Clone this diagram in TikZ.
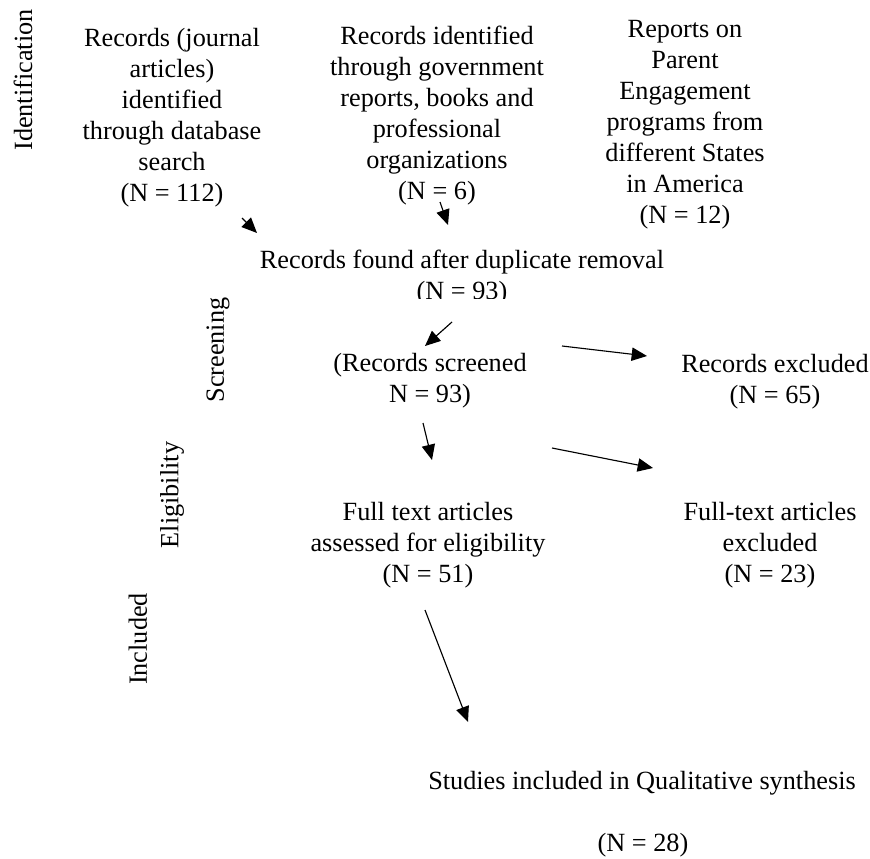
\documentclass[tikz,border=0pt]{standalone}
\usepackage{fontspec}
\setmainfont{Liberation Serif}
\usetikzlibrary{arrows.meta}
\begin{document}
\begin{tikzpicture}[x=0.75pt,y=-0.75pt,
  txt/.style={inner sep=0pt,align=center,font=\fontsize{19.7pt}{23.25pt}\selectfont},
  side/.style={txt,rotate=90},
  arr/.style={line width=0.85pt,-{Triangle[length=11.5pt,width=10pt]}}]
\useasboundingbox (0,0) rectangle (870,859);
% stage labels
\node[side] (lid) at (23,80) {Identification};
\node[side] (lsc) at (218,350) {Screening};
\node[side] (lel) at (172,495) {Eligibility};
\node[side] (lin) at (138,639) {Included};
% boxes
\node[txt] (b1) at (172,117.5) {Records (journal\\articles)\\identified\\through database\\search\\(N = 112)};
\node[txt] (b2) at (437,115.5) {Records identified\\through government\\reports, books and\\professional\\organizations\\(N = 6)};
\node[txt] (b3) at (685,125) {Reports on\\Parent\\Engagement\\programs from\\different States\\in America\\(N = 12)};
\begin{scope}
\clip (0,0) rectangle (870,298);
\node[txt] (dup) at (462,278) {Records found after duplicate removal\\(N = 93)};
\end{scope}
\node[txt] (scr) at (430,381) {(Records screened\\N = 93)};
\node[txt] (exc) at (775,382) {Records excluded\\(N = 65)};
\node[txt] (full) at (428,545) {Full text articles\\assessed for eligibility\\(N = 51)};
\node[txt] (fexc) at (770,545) {Full-text articles\\excluded\\(N = 23)};
\node[txt] (stud) at (642,783) {Studies included in Qualitative synthesis};
\node[txt] (studn) at (643,845) {(N = 28)};
% arrow end points
\coordinate (a1s) at (242,218); \coordinate (a1e) at (257,233);
\coordinate (a2s) at (440,202); \coordinate (a2e) at (448,225);
\coordinate (a3s) at (452,322); \coordinate (a3e) at (425,346);
\coordinate (a4s) at (562,346); \coordinate (a4e) at (647,356);
\coordinate (a5s) at (423,423); \coordinate (a5e) at (432,460);
\coordinate (a6s) at (552,448); \coordinate (a6e) at (653,468);
\coordinate (a7s) at (425,610); \coordinate (a7e) at (468,722);
\draw[arr] (a1s) -- (a1e);
\draw[arr] (a2s) -- (a2e);
\draw[arr] (a3s) -- (a3e);
\draw[arr] (a4s) -- (a4e);
\draw[arr] (a5s) -- (a5e);
\draw[arr] (a6s) -- (a6e);
\draw[arr] (a7s) -- (a7e);
\end{tikzpicture}
\end{document}
